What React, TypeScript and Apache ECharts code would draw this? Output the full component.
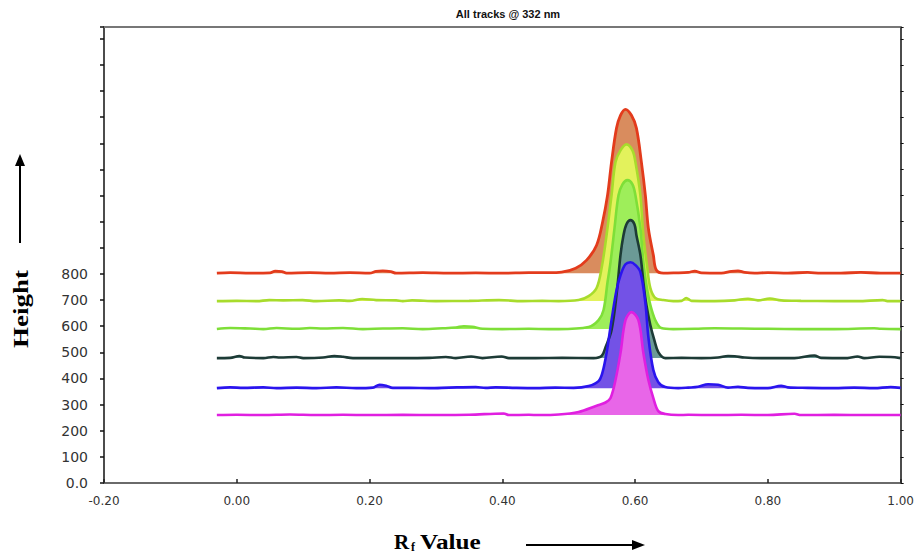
import React, { useEffect, useRef } from "react";
import * as echarts from "echarts";

const chartTitle = "All tracks @ 332 nm";
const yAxisTitle = "Height";
const xAxisTitleMain = "R";
const xAxisTitleSub = "f";
const xAxisTitleRest = "Value";
const maxLabelledHeight = 800;

const traceBaselines = [803, 696, 589, 478, 363, 260];
const lineColors = ["#e33b1c", "#a8dc2c", "#7edf38", "#1d3b36", "#2a14ee", "#e01fe0"];
const fillColors = ["#d98c5e", "#e3f25c", "#9eee5a", "#6b9a96", "#7352e6", "#e866e8"];

const redTrace = [
  [-0.03, 803], [-0.01, 805], [0.02, 803], [0.05, 804], [0.058, 811], [0.068, 809], [0.075, 803], [0.11, 805],
  [0.14, 803], [0.17, 805], [0.2, 803], [0.21, 810], [0.22, 812], [0.232, 809], [0.24, 803], [0.28, 805],
  [0.32, 803], [0.36, 804], [0.4, 803], [0.44, 805], [0.47, 805],
  [0.4894, 807], [0.5104, 822], [0.527, 853], [0.542, 910], [0.551, 998], [0.5585, 1101], [0.5645, 1228],
  [0.572, 1358], [0.578, 1407], [0.5855, 1430], [0.5945, 1407], [0.602, 1358], [0.6095, 1228], [0.6155, 1101],
  [0.62, 975], [0.6275, 872], [0.632, 815], [0.6425, 803],
  [0.66, 804], [0.68, 806], [0.69, 811], [0.7, 804], [0.73, 803], [0.745, 810], [0.755, 812], [0.765, 806],
  [0.78, 803], [0.8, 805], [0.83, 803], [0.86, 806], [0.88, 803], [0.91, 803], [0.94, 806], [0.97, 803], [1.0, 803],
];

const yellowTrace = [
  [-0.03, 696], [0.0, 697], [0.03, 696], [0.049, 700], [0.07, 699], [0.099, 700], [0.12, 696], [0.154, 699],
  [0.17, 697], [0.189, 704], [0.21, 700], [0.24, 699], [0.25, 696], [0.264, 699], [0.3, 696], [0.35, 697],
  [0.395, 700], [0.43, 696], [0.46, 697],
  [0.4849, 696], [0.5149, 700], [0.53, 715], [0.542, 746], [0.5495, 822], [0.557, 948], [0.5645, 1101],
  [0.5705, 1228], [0.578, 1273], [0.587, 1296], [0.596, 1273], [0.6005, 1228], [0.608, 1101], [0.6125, 948],
  [0.6185, 822], [0.623, 746], [0.6305, 708], [0.6425, 700], [0.6575, 696],
  [0.67, 697], [0.677, 708], [0.685, 697], [0.72, 696], [0.75, 699], [0.77, 705], [0.785, 699], [0.803, 706],
  [0.82, 699], [0.85, 697], [0.9, 696], [0.935, 696], [0.973, 700], [0.98, 696], [1.0, 696],
];

const greenTrace = [
  [-0.03, 589], [-0.01, 593], [0.02, 591], [0.04, 589], [0.06, 593], [0.09, 590], [0.11, 593], [0.13, 591],
  [0.16, 593], [0.19, 589], [0.22, 591], [0.25, 592], [0.28, 589], [0.31, 592], [0.33, 595], [0.342, 600],
  [0.355, 598], [0.37, 590], [0.4, 589], [0.44, 590], [0.47, 589],
  [0.4849, 589], [0.53, 597], [0.545, 623], [0.5525, 662], [0.5585, 769], [0.563, 845], [0.569, 975],
  [0.575, 1101], [0.581, 1143], [0.5885, 1159], [0.596, 1143], [0.6005, 1101], [0.608, 975], [0.6125, 845],
  [0.617, 758], [0.623, 681], [0.6305, 623], [0.6395, 593], [0.6575, 589],
  [0.69, 590], [0.72, 592], [0.76, 591], [0.8, 590], [0.85, 589], [0.9, 589], [0.96, 592], [0.97, 590], [1.0, 589],
];

const darkTrace = [
  [-0.03, 478], [-0.01, 479], [0.004, 486], [0.012, 480], [0.04, 478], [0.055, 482], [0.065, 480], [0.09, 482],
  [0.1, 478], [0.13, 480], [0.147, 486], [0.16, 483], [0.175, 478], [0.2, 478], [0.25, 478], [0.29, 479],
  [0.315, 482], [0.33, 478], [0.353, 484], [0.37, 478], [0.399, 484], [0.41, 478], [0.45, 478], [0.49, 479],
  [0.5375, 478], [0.5495, 486], [0.5555, 520], [0.5645, 585], [0.572, 719], [0.578, 872], [0.5825, 948],
  [0.587, 990], [0.593, 1006], [0.599, 990], [0.602, 948], [0.608, 872], [0.6125, 769], [0.617, 681],
  [0.623, 604], [0.629, 547], [0.635, 501], [0.6455, 478],
  [0.67, 479], [0.7, 478], [0.725, 480], [0.74, 486], [0.75, 485], [0.765, 480], [0.79, 478], [0.84, 478],
  [0.87, 488], [0.88, 479], [0.92, 478], [0.935, 484], [0.945, 478], [0.968, 483], [0.985, 482], [1.0, 478],
];

const blueTrace = [
  [-0.03, 363], [-0.01, 366], [0.01, 364], [0.04, 366], [0.06, 363], [0.09, 365], [0.12, 363], [0.15, 366],
  [0.18, 363], [0.205, 365], [0.215, 376], [0.225, 372], [0.235, 364], [0.26, 364], [0.29, 363], [0.32, 365],
  [0.36, 367], [0.375, 364], [0.39, 366], [0.42, 364], [0.45, 363], [0.48, 365],
  [0.5074, 364], [0.53, 371], [0.545, 390], [0.551, 424], [0.557, 497], [0.5645, 623], [0.572, 738],
  [0.578, 795], [0.5855, 837], [0.593, 845], [0.6005, 834], [0.608, 807], [0.6155, 688], [0.62, 558],
  [0.6275, 432], [0.635, 386], [0.6455, 367], [0.665, 363],
  [0.68, 365], [0.695, 368], [0.71, 378], [0.725, 376], [0.74, 365], [0.755, 368], [0.77, 364], [0.8, 363],
  [0.82, 372], [0.83, 366], [0.86, 364], [0.9, 363], [0.93, 365], [0.96, 363], [0.985, 367], [1.0, 364],
];

const magentaTrace = [
  [-0.03, 260], [0.0, 261], [0.04, 260], [0.08, 262], [0.12, 260], [0.16, 261], [0.2, 260], [0.25, 261],
  [0.3, 260], [0.35, 261], [0.402, 266], [0.41, 260], [0.44, 261],
  [0.4549, 260], [0.4849, 262], [0.5149, 272], [0.542, 296], [0.5555, 308], [0.563, 325], [0.5705, 394],
  [0.578, 497], [0.5855, 623], [0.5945, 654], [0.605, 623], [0.6125, 497], [0.62, 394], [0.6275, 325],
  [0.635, 275], [0.6455, 264], [0.665, 260],
  [0.68, 261], [0.72, 260], [0.76, 261], [0.8, 260], [0.84, 265], [0.85, 260], [0.9, 261], [0.95, 260], [1.0, 260],
];

const traces = [redTrace, yellowTrace, greenTrace, darkTrace, blueTrace, magentaTrace];

export default function App() {
  const ref = useRef<HTMLDivElement>(null);
  useEffect(() => {
    const chart = echarts.init(ref.current!, null, { renderer: "svg" });
    const labelFont = "DejaVu Sans";
    chart.setOption({
      animation: false,
      grid: { left: 104, right: 14, top: 27, bottom: 70 },
      xAxis: [
        {
          type: "value", min: -0.2, max: 1.0, interval: 0.2,
          axisLine: { show: true, onZero: false, lineStyle: { color: "#6a6a6a", width: 2 } },
          axisTick: { show: true, inside: true, length: 4, lineStyle: { color: "#222", width: 1.5 } },
          axisLabel: { formatter: (v: number) => v.toFixed(2), fontFamily: labelFont, fontSize: 12, color: "#333", margin: 12 },
          splitLine: { show: false },
        },
        {
          type: "value", position: "top", min: -0.2, max: 1.0,
          axisLine: { show: true, onZero: false, lineStyle: { color: "#777", width: 2 } },
          axisTick: { show: false }, axisLabel: { show: false }, splitLine: { show: false },
        },
      ],
      yAxis: [
        {
          type: "value", min: 0, max: 1745, interval: 100,
          axisLine: { show: true, onZero: false, lineStyle: { color: "#111", width: 1.5 } },
          axisTick: { show: true, length: 4, lineStyle: { color: "#111", width: 1.5 } },
          axisLabel: {
            formatter: (v: number) => (v === 0 ? "0.0" : v <= maxLabelledHeight ? String(v) : ""),
            fontFamily: labelFont, fontSize: 14, color: "#333", margin: 16,
          },
          splitLine: { show: false },
        },
        {
          type: "value", position: "right", min: 0, max: 1745, interval: 100,
          axisLine: { show: true, onZero: false, lineStyle: { color: "#111", width: 1.5 } },
          axisTick: { show: true, length: 3, lineStyle: { color: "#111", width: 1 } },
          axisLabel: { show: false }, splitLine: { show: false },
        },
      ],
      series: traces.map((d, i) => ({
        type: "line",
        data: d,
        showSymbol: false,
        smooth: 0.35,
        silent: true,
        lineStyle: { color: lineColors[i], width: i === 0 ? 2.8 : 2.6 },
        areaStyle: { color: fillColors[i], opacity: 1, origin: traceBaselines[i] },
      })),
      graphic: [
        {
          type: "text", x: 508, y: 14,
          style: { text: chartTitle, font: 'bold 11px "Liberation Sans"', fill: "#111", textAlign: "center", textVerticalAlign: "middle", align: "center", verticalAlign: "middle" },
        },
        {
          type: "text", x: 21, y: 309, rotation: Math.PI / 2, scaleX: 1.35,
          style: { text: yAxisTitle, font: 'bold 20px "Liberation Serif"', fill: "#000", textAlign: "center", textVerticalAlign: "middle", align: "center", verticalAlign: "middle" },
        },
        { type: "line", shape: { x1: 20, y1: 243, x2: 20, y2: 163 }, style: { stroke: "#000", lineWidth: 2 } },
        { type: "polygon", shape: { points: [[20, 154], [15, 166], [25, 166]] }, style: { fill: "#000" } },
        {
          type: "text", x: 394, y: 542,
          style: { text: xAxisTitleMain, font: 'bold 21px "Liberation Serif"', fill: "#000", textAlign: "left", textVerticalAlign: "middle", align: "left", verticalAlign: "middle" },
        },
        {
          type: "text", x: 411, y: 547,
          style: { text: xAxisTitleSub, font: 'bold 12px "Liberation Serif"', fill: "#000", textAlign: "left", textVerticalAlign: "middle", align: "left", verticalAlign: "middle" },
        },
        {
          type: "text", x: 420, y: 542, scaleX: 1.2,
          style: { text: xAxisTitleRest, font: 'bold 21px "Liberation Serif"', fill: "#000", textAlign: "left", textVerticalAlign: "middle", align: "left", verticalAlign: "middle" },
        },
        { type: "line", shape: { x1: 526, y1: 545, x2: 634, y2: 545 }, style: { stroke: "#000", lineWidth: 2 } },
        { type: "polygon", shape: { points: [[645, 545], [632, 540], [632, 550]] }, style: { fill: "#000" } },
      ],
    });
    return () => chart.dispose();
  }, []);
  return <div ref={ref} style={{ position: "absolute", left: 0, top: 0, width: 917, height: 553 }} />;
}
